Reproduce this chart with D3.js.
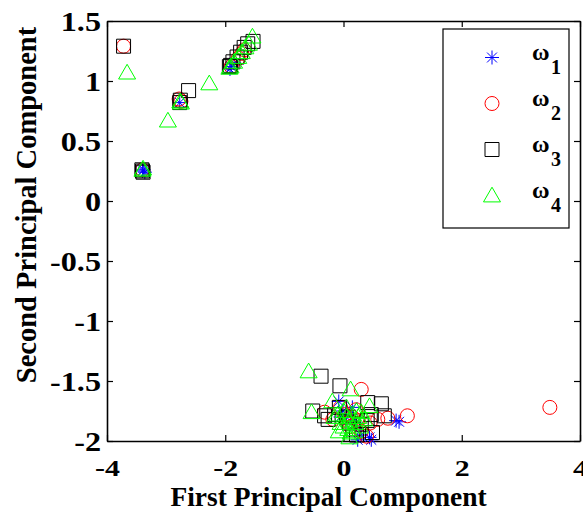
<!DOCTYPE html>
<html><head><meta charset="utf-8">
<script src="https://cdn.jsdelivr.net/npm/d3@7"></script>
</head><body style="margin:0;background:#fff">
<svg id="chart" width="583" height="516" style="display:block" font-family="Liberation Serif"></svg>
<script>
// ---- data ----
const xTicks = [-4, -2, 0, 2, 4];
const xTickLabels = ["-4", "-2", "0", "2", "4"];
const yTicks = [-2, -1.5, -1, -0.5, 0, 0.5, 1, 1.5];
const yTickLabels = ["-2", "-1.5", "-1", "-0.5", "0", "0.5", "1", "1.5"];
const seriesNames = ["ω1", "ω2", "ω3", "ω4"];

const w1x = [-3.40, -3.38, -3.36, -2.77, -1.92, -1.90, -1.85,
  -0.08, -0.01, 0.05, 0.12, 0.20, 0.24, 0.44, 0.47, 0.89, 0.94, 0.15, -0.05, 0.30];
const w1y = [0.25, 0.26, 0.24, 0.82, 1.10, 1.12, 1.15,
  -1.67, -1.75, -1.80, -1.78, -1.85, -1.99, -1.97, -1.99, -1.83, -1.84, -1.72, -1.80, -1.95];

const w2x = [-3.72, -2.78, -2.75, -1.90, -1.78, -1.72, -1.68, -3.40,
  0.30, 1.08, 0.75, -0.32, 0.21, 0.58, 0.07, 0.30, -0.18, 0.39, 0.02, 3.49, 0.12,
  -0.05, 0.15, 0.25, 0.45];
const w2y = [1.29, 0.85, 0.83, 1.12, 1.19, 1.23, 1.26, 0.26,
  -1.57, -1.79, -1.81, -1.76, -1.74, -1.82, -1.85, -1.92, -1.82, -1.96, -1.78, -1.72, -1.88,
  -1.72, -1.80, -1.83, -1.85];

const w3x = [-3.72, -3.40, -3.41, -3.39, -2.77, -2.76, -2.62, -1.93, -1.91, -1.87, -1.80, -1.74, -1.68, -1.62, -1.53,
  -0.38, -0.06, -0.52, 0.41, 0.69, -0.26, 0.47, 0.49, -0.07, 0.30, 0.16, 0.05, 0.40,
  -0.32, 0.64, -0.15, 0.10, 0.22];
const w3y = [1.29, 0.25, 0.26, 0.24, 0.82, 0.84, 0.92, 1.12, 1.13, 1.16, 1.20, 1.24, 1.28, 1.31, 1.33,
  -1.46, -1.54, -1.75, -1.68, -1.79, -1.82, -1.78, -1.93, -1.72, -1.86, -1.90, -1.80, -1.83,
  -1.79, -1.69, -1.78, -1.85, -1.95];

const w4x = [-3.66, -3.40, -3.39, -2.97, -2.76, -2.75, -2.27, -1.93, -1.91, -1.85, -1.78, -1.72, -1.66, -1.60, -1.54,
  -0.59, 0.12, -0.19, -0.54, 0.44, 0.10, 0.00, 0.05, 0.10, 0.15, 0.20, 0.25, -0.05, 0.08, 0.18, -0.10, 0.30,
  -0.15, 0.00, 0.12, 0.22, 0.28, 0.05, -0.08, 0.35];
const w4y = [1.07, 0.26, 0.27, 0.67, 0.83, 0.82, 0.98, 1.11, 1.12, 1.16, 1.20, 1.24, 1.28, 1.31, 1.37,
  -1.42, -1.57, -1.67, -1.76, -1.71, -1.97, -1.75, -1.80, -1.83, -1.78, -1.85, -1.80, -1.85, -1.90, -1.92, -1.78, -1.76,
  -1.80, -1.88, -1.93, -1.75, -1.88, -1.72, -1.92, -1.82];

// ---- layout ----
const FONT = "Liberation Serif";
const svg = d3.select("#chart");
const L = 107, R = 580, T = 21, B = 441;
const x = d3.scaleLinear().domain([-4, 4]).range([L, R]);
const y = d3.scaleLinear().domain([-2, 1.5]).range([B, T]);

const colors = ["#0000ff", "#ff0000", "#000000", "#00ff00"];
const asterisk = {
  draw(ctx, size) {
    const r = Math.sqrt(size) / 2;
    const d = r * Math.SQRT1_2;
    ctx.moveTo(-r, 0); ctx.lineTo(r, 0);
    ctx.moveTo(0, -r); ctx.lineTo(0, r);
    ctx.moveTo(-d, -d); ctx.lineTo(d, d);
    ctx.moveTo(-d, d); ctx.lineTo(d, -d);
  }
};
const symbols = [
  d3.symbol().type(asterisk).size(196)(),
  d3.symbol().type(d3.symbolCircle).size(154)(),
  d3.symbol().type(d3.symbolSquare).size(196)(),
  d3.symbol().type(d3.symbolTriangle).size(125)()
];
const triOffset = 1.5;

function txt(sel, size) {
  return sel.attr("font-family", FONT).style("font-family", FONT).style("font-weight", "bold")
    .style("font-size", size + "px").attr("fill", "#000");
}

// ---- axes ----
function styleAxis(g) {
  g.attr("font-family", FONT);
  g.select(".domain").attr("stroke", "#000").attr("stroke-width", 1.6);
  g.selectAll(".tick line").attr("stroke", "#000").attr("stroke-width", 1.2);
}
const gx = svg.append("g").attr("transform", `translate(0,${B})`)
  .call(d3.axisBottom(x).tickValues(xTicks).tickSizeInner(-6).tickSizeOuter(0)
    .tickFormat((d, i) => xTickLabels[i]));
styleAxis(gx);
txt(gx.selectAll(".tick text"), 23).attr("y", 0).attr("dy", null)
  .attr("transform", "translate(0,34.5) scale(1.3,1)").attr("text-anchor", "middle");

const gy = svg.append("g").attr("transform", `translate(${L},0)`)
  .call(d3.axisLeft(y).tickValues(yTicks).tickSizeInner(-6).tickSizeOuter(0)
    .tickFormat((d, i) => yTickLabels[i]));
styleAxis(gy);
txt(gy.selectAll(".tick text"), 28).attr("x", 0).attr("dy", "0.34em")
  .attr("transform", "translate(-6,0) scale(1.15,1)").attr("text-anchor", "end");

const gt = svg.append("g").attr("transform", `translate(0,${T})`)
  .call(d3.axisTop(x).tickValues(xTicks).tickSizeInner(-6).tickSizeOuter(0).tickFormat(""));
styleAxis(gt);
const gr = svg.append("g").attr("transform", `translate(${R},0)`)
  .call(d3.axisRight(y).tickValues(yTicks).tickSizeInner(-6).tickSizeOuter(0).tickFormat(""));
styleAxis(gr);

// ---- points ----
const all = [[w1x, w1y], [w2x, w2y], [w3x, w3y], [w4x, w4y]];
all.forEach(([xs, ys], si) => {
  const pts = xs.map((v, i) => [v, ys[i]]);
  svg.append("g").selectAll("path").data(pts).join("path")
    .attr("d", symbols[si])
    .attr("transform", d => `translate(${x(d[0])},${y(d[1]) + (si === 3 ? triOffset : 0)})`)
    .attr("fill", "none").attr("stroke", colors[si]).attr("stroke-width", 1);
});

// ---- legend ----
const lg = svg.append("g");
lg.append("rect").attr("x", 443).attr("y", 29).attr("width", 126).attr("height", 199)
  .attr("fill", "#fff").attr("stroke", "#000").attr("stroke-width", 1.2);
seriesNames.forEach((name, i) => {
  const cy = 57.5 + i * 46;
  lg.append("path").attr("d", symbols[i])
    .attr("transform", `translate(492,${cy + (i === 3 ? triOffset : 0)})`)
    .attr("fill", "none").attr("stroke", colors[i]).attr("stroke-width", 1);
  const t = txt(lg.append("text"), 24).attr("x", 532).attr("y", cy + 2);
  t.append("tspan").text(name[0]);
  t.append("tspan").attr("x", 551).attr("y", cy + 16).style("font-size", "20px").text(name.slice(1));
});

// ---- titles ----
txt(svg.append("text"), 27.5).attr("x", 328.5).attr("y", 506).attr("text-anchor", "middle")
  .text("First Principal Component");
txt(svg.append("text"), 28.5).attr("transform", "translate(36,205) rotate(-90)").attr("text-anchor", "middle")
  .text("Second Principal Component");
</script>
</body></html>
